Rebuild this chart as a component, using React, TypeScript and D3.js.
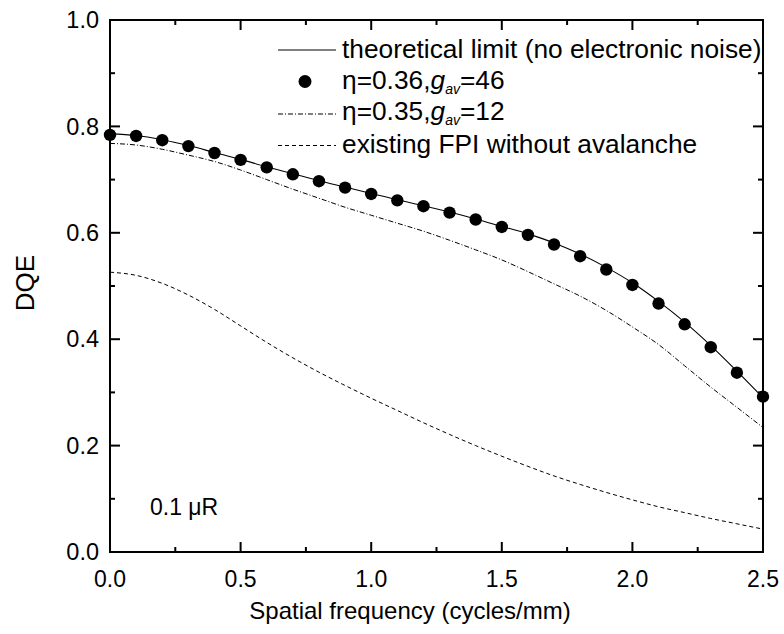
import React from "react";
import * as d3 from "d3";

const freq = [0, 0.1, 0.2, 0.3, 0.4, 0.5, 0.6, 0.7, 0.8, 0.9, 1.0, 1.1, 1.2, 1.3, 1.4, 1.5, 1.6, 1.7, 1.8, 1.9, 2.0, 2.1, 2.2, 2.3, 2.4, 2.5];
const theoretical = [0.786, 0.783, 0.775, 0.764, 0.751, 0.738, 0.724, 0.711, 0.698, 0.686, 0.674, 0.662, 0.651, 0.639, 0.626, 0.612, 0.598, 0.581, 0.560, 0.535, 0.506, 0.471, 0.432, 0.388, 0.340, 0.290];
const dots46 = [0.784, 0.782, 0.774, 0.763, 0.750, 0.737, 0.723, 0.710, 0.697, 0.685, 0.673, 0.661, 0.650, 0.638, 0.625, 0.611, 0.596, 0.578, 0.556, 0.531, 0.502, 0.467, 0.428, 0.385, 0.337, 0.292];
const gav12 = [0.768, 0.765, 0.757, 0.746, 0.734, 0.718, 0.700, 0.682, 0.665, 0.648, 0.633, 0.618, 0.603, 0.586, 0.568, 0.549, 0.527, 0.504, 0.481, 0.454, 0.423, 0.390, 0.350, 0.310, 0.272, 0.234];
const existing = [0.526, 0.520, 0.505, 0.483, 0.456, 0.425, 0.394, 0.365, 0.338, 0.313, 0.289, 0.266, 0.243, 0.221, 0.200, 0.180, 0.161, 0.143, 0.127, 0.112, 0.098, 0.085, 0.074, 0.063, 0.053, 0.043];

const xTicks = [0, 0.5, 1.0, 1.5, 2.0, 2.5];
const xMinor = [0.25, 0.75, 1.25, 1.75, 2.25];
const yTicks = [0, 0.2, 0.4, 0.6, 0.8, 1.0];
const yMinor = [0.1, 0.3, 0.5, 0.7, 0.9];

const legendLabels = ["theoretical limit (no electronic noise)", "η=0.36,", "η=0.35,", "existing FPI without avalanche"];

const W = 784, H = 634;
const L = 110, R = 763, T = 20, B = 552;
const FONT = "'Liberation Sans', Arial, Helvetica, sans-serif";

export default function App() {
  const x = d3.scaleLinear().domain([0, 2.5]).range([L, R]);
  const y = d3.scaleLinear().domain([0, 1]).range([B, T]);
  const mk = (vals: number[]) =>
    d3.line<number>().x((_, i) => x(freq[i])).y((v) => y(v)).curve(d3.curveMonotoneX)(vals) || "";

  const major = 10, minor = 5;
  const tickLines: JSX.Element[] = [];
  xTicks.concat(xMinor).forEach((t, i) => {
    const len = xTicks.includes(t) ? major : minor;
    tickLines.push(<line key={"xb" + i} x1={x(t)} x2={x(t)} y1={B} y2={B - len} />);
    tickLines.push(<line key={"xt" + i} x1={x(t)} x2={x(t)} y1={T} y2={T + len} />);
  });
  yTicks.concat(yMinor).forEach((t, i) => {
    const len = yTicks.includes(t) ? major : minor;
    tickLines.push(<line key={"yl" + i} x1={L} x2={L + len} y1={y(t)} y2={y(t)} />);
    tickLines.push(<line key={"yr" + i} x1={R} x2={R - len} y1={y(t)} y2={y(t)} />);
  });

  const lx1 = 278, lx2 = 336, tx = 342;
  const rows = [50, 81.5, 114, 145.5];
  const base = [57.5, 88.5, 120, 153];

  return (
    <svg width={W} height={H} style={{ position: "absolute", left: 0, top: 0, background: "#fff" }} fontFamily={FONT}>
      <rect x={0} y={0} width={W} height={H} fill="#fff" />
      <path d={mk(existing)} fill="none" stroke="#000" strokeWidth={1} strokeDasharray="4,3" />
      <path d={mk(gav12)} fill="none" stroke="#000" strokeWidth={1} strokeDasharray="5,2,1,2" />
      <path d={mk(theoretical)} fill="none" stroke="#000" strokeWidth={1.1} />
      {dots46.map((v, i) => (
        <circle key={i} cx={x(freq[i])} cy={y(v)} r={6.2} fill="#000" />
      ))}
      <g stroke="#000" strokeWidth={2}>{tickLines}</g>
      <rect x={L} y={T} width={R - L} height={B - T} fill="none" stroke="#000" strokeWidth={2} />

      {xTicks.map((t) => (
        <text key={t} x={x(t)} y={587} textAnchor="middle" fontSize={23}>{t.toFixed(1)}</text>
      ))}
      {yTicks.map((t) => (
        <text key={t} x={99} y={y(t)} dy="0.35em" textAnchor="end" fontSize={23.5}>{t.toFixed(1)}</text>
      ))}
      <text x={410} y={619} textAnchor="middle" fontSize={24}>Spatial frequency (cycles/mm)</text>
      <text transform={`translate(34,283) rotate(-90)`} textAnchor="middle" fontSize={26}>DQE</text>
      <text x={150} y={515} fontSize={23}>0.1 μR</text>

      {/* legend */}
      <line x1={lx1} x2={lx2} y1={rows[0]} y2={rows[0]} stroke="#000" strokeWidth={1} />
      <circle cx={305} cy={rows[1]} r={6.5} fill="#000" />
      <line x1={lx1} x2={lx2} y1={rows[2]} y2={rows[2]} stroke="#000" strokeWidth={1} strokeDasharray="5,2,1,2" />
      <line x1={lx1} x2={lx2} y1={rows[3]} y2={rows[3]} stroke="#000" strokeWidth={1} strokeDasharray="4,3" />
      <g fontSize={26.3}>
        <text x={tx} y={base[0]}>{legendLabels[0]}</text>
        <text x={tx} y={base[1]}>
          <tspan>{legendLabels[1]}</tspan>
          <tspan fontStyle="italic">g</tspan>
          <tspan fontStyle="italic" fontSize={14} dy={5}>av</tspan>
          <tspan dy={-5}>=46</tspan>
        </text>
        <text x={tx} y={base[2]}>
          <tspan>{legendLabels[2]}</tspan>
          <tspan fontStyle="italic">g</tspan>
          <tspan fontStyle="italic" fontSize={14} dy={5}>av</tspan>
          <tspan dy={-5}>=12</tspan>
        </text>
        <text x={tx} y={base[3]}>{legendLabels[3]}</text>
      </g>
    </svg>
  );
}
